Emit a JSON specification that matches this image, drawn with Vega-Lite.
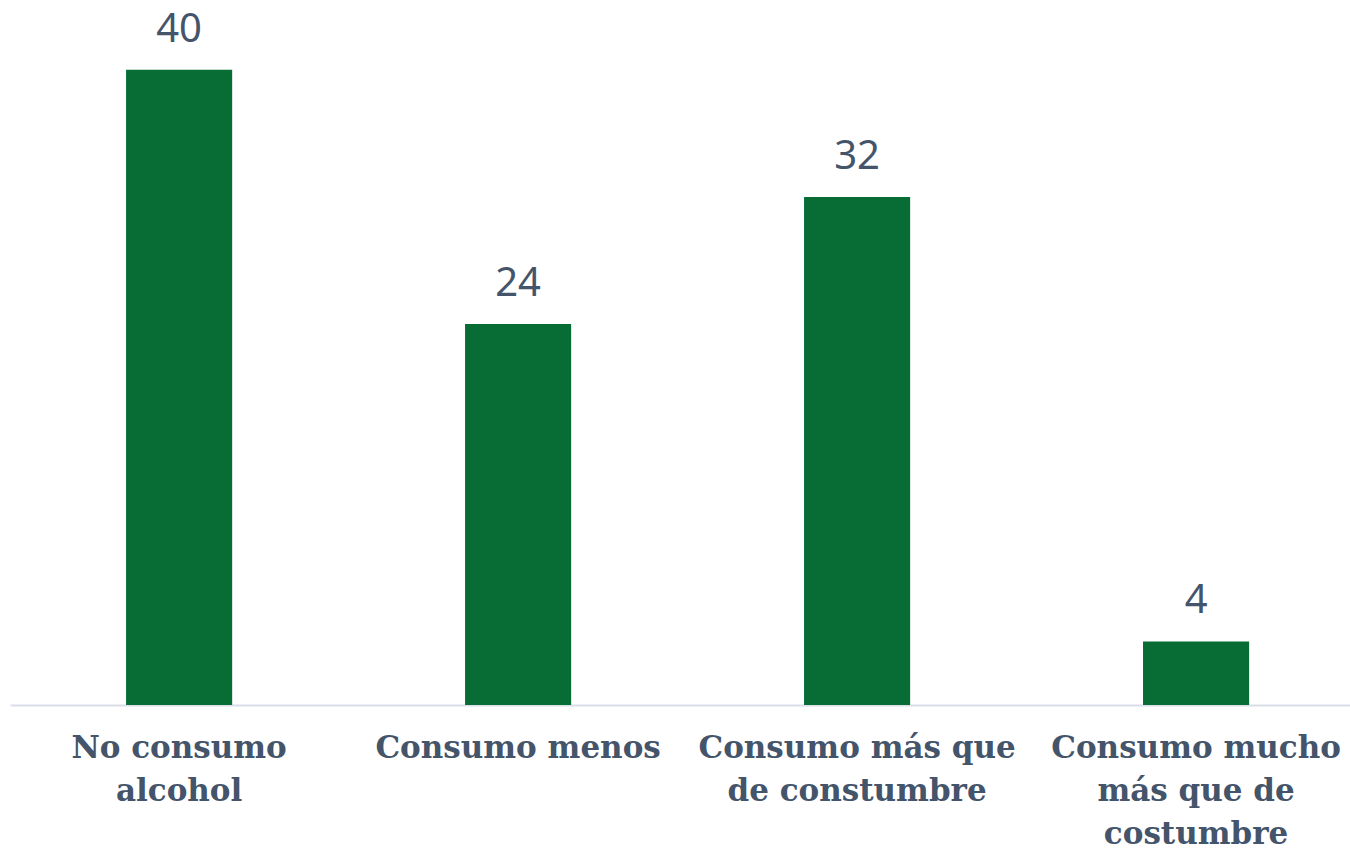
{
  "$schema": "https://vega.github.io/schema/vega-lite/v6.json",
  "width": 1340,
  "height": 705,
  "autosize": {"type": "none"},
  "padding": {"left": 10, "top": 0, "right": 0, "bottom": 144},
  "background": "white",
  "config": {"view": {"stroke": null}},
  "data": {
    "values": [
      {"cat": "No consumo|alcohol", "value": 40},
      {"cat": "Consumo menos", "value": 24},
      {"cat": "Consumo más que|de constumbre", "value": 32},
      {"cat": "Consumo mucho|más que de|costumbre", "value": 4}
    ]
  },
  "encoding": {
    "x": {
      "field": "cat",
      "type": "nominal",
      "sort": null,
      "scale": {"paddingInner": 0.687, "paddingOuter": 0.32, "align": 0.535},
      "axis": {
        "title": null,
        "labelAngle": 0,
        "labelExpr": "split(datum.label, '|')",
        "labelFont": "DejaVu Serif",
        "labelFontSize": 31,
        "labelFontWeight": "bold",
        "labelColor": "#44546A",
        "labelLineHeight": 43,
        "labelPadding": 28,
        "labelLimit": 0,
        "ticks": false,
        "domainColor": "#D9DEE8",
        "domainWidth": 2
      }
    },
    "y": {
      "field": "value",
      "type": "quantitative",
      "scale": {"domain": [0, 44.4], "nice": false},
      "axis": null
    }
  },
  "layer": [
    {"mark": {"type": "bar", "color": "#086D35"}},
    {
      "mark": {"type": "text", "baseline": "alphabetic", "dy": -28, "font": "Noto Sans", "fontSize": 40, "color": "#44546A"},
      "encoding": {"text": {"field": "value", "type": "quantitative"}}
    }
  ]
}
